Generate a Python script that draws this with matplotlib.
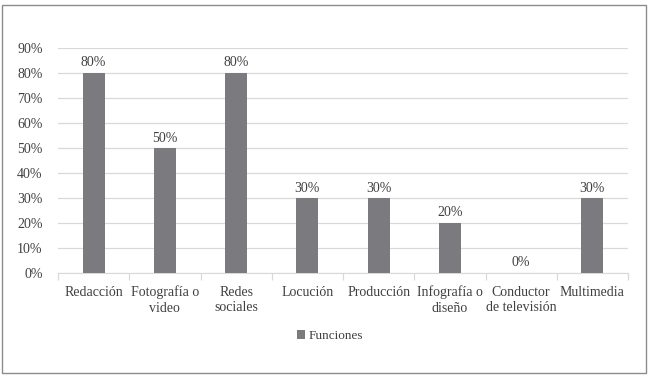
import numpy as np
import matplotlib
matplotlib.use('Agg')
import matplotlib.pyplot as plt
from matplotlib.patches import Rectangle

plt.rcParams['font.family'] = ['Liberation Serif', 'DejaVu Serif']

categories = ["Redacción", "Fotografía o\nvideo", "Redes\nsociales", "Locución",
              "Producción", "Infografía o\ndiseño", "Conductor\nde televisión", "Multimedia"]
values = [0.80, 0.50, 0.80, 0.30, 0.30, 0.20, 0.0, 0.30]
series_name = "Funciones"

fig = plt.figure(figsize=(6.5, 3.79), dpi=100)
ax = fig.add_axes([58/650, 1 - 273/379, 570/650, 225/379])

# marco exterior del gráfico
fig.patches.append(Rectangle((2/650, 6/379), 644/650, 368/379, transform=fig.transFigure,
                             fill=False, edgecolor='#8c8c8c', linewidth=1.0))

x = np.arange(len(categories))
bars = ax.bar(x, values, width=0.31, color='#7b7b7f', label=series_name, zorder=3)

for xi, v in zip(x, values):
    ax.text(xi, v + 0.014, f"{v*100:.0f}%", ha='center', va='bottom', fontsize=10, color='#404040')

ax.set_xlim(-0.5, len(categories) - 0.5)
ax.set_ylim(0, 0.9)
ax.set_yticks(np.arange(0, 0.91, 0.1))
ax.set_yticklabels([f"{t*100:.0f}%" for t in np.arange(0, 0.91, 0.1)], fontsize=10, color='#404040')
ax.yaxis.grid(True, color='#d9d9d9', linewidth=0.9, zorder=0)
ax.tick_params(axis='y', length=0, pad=11)

ax.set_xticks(x)
ax.set_xticklabels(categories, fontsize=10, color='#404040', linespacing=1.25)
ax.tick_params(axis='x', length=0, pad=9)
ax.set_xticks(np.arange(-0.5, len(categories), 1.0), minor=True)
ax.tick_params(axis='x', which='minor', length=5, color='#d9d9d9', width=0.9)

for s in ['top', 'right', 'left']:
    ax.spines[s].set_visible(False)
ax.spines['bottom'].set_color('#d9d9d9')

fig.legend(handles=[bars], labels=[series_name], loc='center', bbox_to_anchor=(330/650, 1 - 336/379),
           frameon=False, fontsize=9.5, handlelength=0.6, handleheight=0.6, handletextpad=0.3,
           labelcolor='#404040')

fig.savefig('out.png', dpi=100)
